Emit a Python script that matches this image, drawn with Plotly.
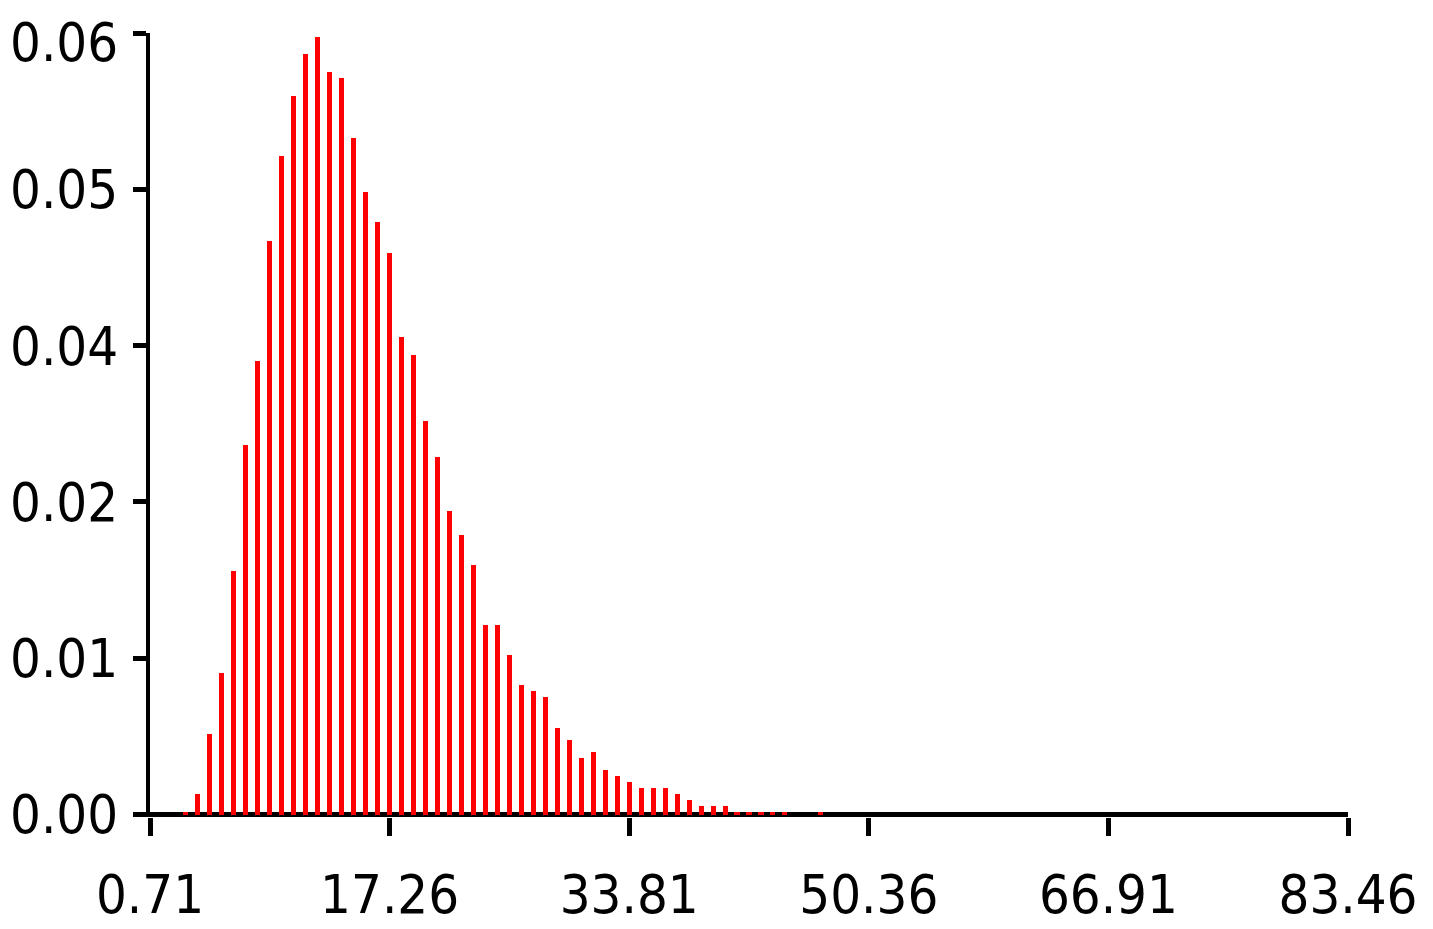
import plotly.graph_objects as go

# ---- data ----
x_min = 0.71
x_max = 83.46
n_bins = 100
first_bin = 3  # bin boundary index of the first plotted bar

probabilities = [
    0.0002, 0.00157, 0.00618, 0.01086, 0.01868, 0.02835, 0.03480, 0.04400,
    0.05053, 0.05513, 0.05835, 0.05973, 0.05697, 0.05651, 0.05191, 0.04776,
    0.04546, 0.04308, 0.03664, 0.03526, 0.03019, 0.02743, 0.02329, 0.02145,
    0.01914, 0.01454, 0.01454, 0.01224, 0.00994, 0.00948, 0.00902, 0.00664,
    0.00572, 0.00434, 0.00480, 0.00341, 0.00295, 0.00249, 0.00203, 0.00203,
    0.00203, 0.00157, 0.00111, 0.00065, 0.00065, 0.00065, 0.0002, 0.0002,
    0.0002, 0.0002, 0.0002, 0.0, 0.0, 0.0002,
]

x_tick_vals = [0.71, 17.26, 33.81, 50.36, 66.91, 83.46]
x_tick_text = ["0.71", "17.26", "33.81", "50.36", "66.91", "83.46"]
y_tick_vals = [0.0, 0.012, 0.024, 0.036, 0.048, 0.06]
y_tick_text = ["0.00", "0.01", "0.02", "0.04", "0.05", "0.06"]

bin_width = (x_max - x_min) / n_bins
x_vals = [x_min + (first_bin + k) * bin_width for k in range(len(probabilities))]

FONT = "DejaVu Sans Condensed, Liberation Sans Narrow, DejaVu Sans, sans-serif"
FSIZE = 54

fig = go.Figure(
    go.Bar(
        x=x_vals,
        y=probabilities,
        width=0.35,
        marker=dict(color="#FF0000", line=dict(width=0)),
        hoverinfo="x+y",
    )
)

# the page body adds an 8px margin, so the figure is sized to fit inside the window
fig.update_layout(
    width=1425,
    height=921,
    margin=dict(l=142, r=85, t=25, b=112, autoexpand=False),
    paper_bgcolor="white",
    plot_bgcolor="white",
    showlegend=False,
    bargap=0,
    font=dict(family=FONT, size=FSIZE, color="black"),
)

fig.update_xaxes(
    range=[x_min, x_max],
    tickmode="array",
    tickvals=x_tick_vals,
    ticktext=x_tick_text,
    ticks="outside",
    ticklen=18,
    tickwidth=5,
    tickcolor="black",
    showline=False,
    showgrid=False,
    zeroline=False,
    automargin=False,
    ticklabeloverflow="allow",
    tickfont=dict(family=FONT, size=FSIZE, color="black"),
    ticklabelstandoff=12,
)

# top label is nudged down (as in the reference) so it stays inside the page
fig.update_yaxes(
    range=[-0.000192, 0.06],
    tickmode="array",
    tickvals=y_tick_vals,
    ticktext=y_tick_text[:-1] + [""],
    ticks="outside",
    ticklen=13,
    tickwidth=5,
    tickcolor="black",
    showline=True,
    linewidth=4,
    linecolor="black",
    showgrid=False,
    zeroline=True,
    zerolinewidth=5,
    zerolinecolor="black",
    automargin=False,
    ticklabeloverflow="allow",
    tickfont=dict(family=FONT, size=FSIZE, color="black"),
    ticklabelstandoff=4,
)

fig.add_annotation(
    text=y_tick_text[-1],
    xref="paper",
    x=0,
    xanchor="right",
    xshift=-30,
    yref="y",
    y=y_tick_vals[-1],
    yanchor="middle",
    yshift=-9,
    showarrow=False,
    font=dict(family=FONT, size=FSIZE, color="black"),
)

fig.write_html("out.html")
